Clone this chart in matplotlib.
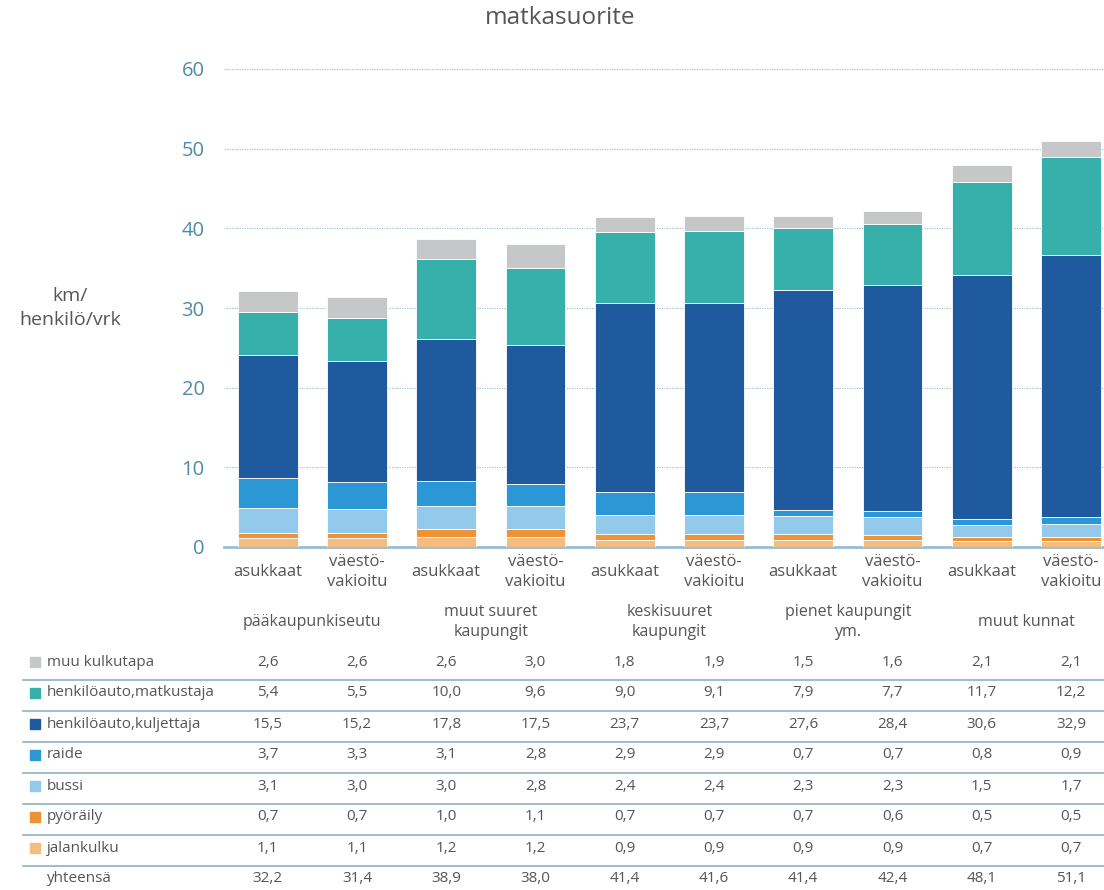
import matplotlib
matplotlib.use("Agg")
import matplotlib.pyplot as plt
import matplotlib.transforms as mtransforms
import numpy as np

plt.rcParams['font.family'] = ['Open Sans', 'DejaVu Sans']

# data
sub_labels = ["asukkaat", "väestö-\nvakioitu"] * 5
groups = ["pääkaupunkiseutu", "muut suuret\nkaupungit", "keskisuuret\nkaupungit",
          "pienet kaupungit\nym.", "muut kunnat"]

modes = ["muu kulkutapa", "henkilöauto,matkustaja", "henkilöauto,kuljettaja",
         "raide", "bussi", "pyöräily", "jalankulku"]
muu = [2.6, 2.6, 2.6, 3.0, 1.8, 1.9, 1.5, 1.6, 2.1, 2.1]
matkustaja = [5.4, 5.5, 10.0, 9.6, 9.0, 9.1, 7.9, 7.7, 11.7, 12.2]
kuljettaja = [15.5, 15.2, 17.8, 17.5, 23.7, 23.7, 27.6, 28.4, 30.6, 32.9]
raide = [3.7, 3.3, 3.1, 2.8, 2.9, 2.9, 0.7, 0.7, 0.8, 0.9]
bussi = [3.1, 3.0, 3.0, 2.8, 2.4, 2.4, 2.3, 2.3, 1.5, 1.7]
pyoraily = [0.7, 0.7, 1.0, 1.1, 0.7, 0.7, 0.7, 0.6, 0.5, 0.5]
jalankulku = [1.1, 1.1, 1.2, 1.2, 0.9, 0.9, 0.9, 0.9, 0.7, 0.7]
yhteensa = [32.2, 31.4, 38.9, 38.0, 41.4, 41.6, 41.4, 42.4, 48.1, 51.1]

series = [muu, matkustaja, kuljettaja, raide, bussi, pyoraily, jalankulku]
colors = ["#c6c7c9", "#37afab", "#1f5a9e", "#2b97d4", "#93c9ea", "#ee9236", "#f3bd80"]

txt = "#555555"
axis_blue = "#4f8aab"
line_blue = "#8fb0c4"

fig = plt.figure(figsize=(11.04, 8.9), dpi=100)
W, H = 1104, 890
ax = fig.add_axes([224 / W, (H - 547) / H, (W - 224) / W, (547 - 69) / H])

x = np.arange(len(yhteensa))
bottom = np.zeros(len(x))
# draw from bottom of stack upward
for vals, col in zip(series[::-1], colors[::-1]):
    ax.bar(x, vals, bottom=bottom, width=0.67, color=col, edgecolor="white", linewidth=0.6, zorder=3)
    bottom += np.array(vals)

ax.set_ylim(0, 60)
ax.set_xlim(-0.49, 9.37)
ax.set_yticks([0, 10, 20, 30, 40, 50, 60])
ax.tick_params(axis="y", length=0, pad=14, labelsize=14.5, labelcolor=axis_blue)
ax.set_xticks([])
for s in ["top", "right", "left"]:
    ax.spines[s].set_visible(False)
ax.spines["bottom"].set_color("#9bbdd2")
ax.spines["bottom"].set_linewidth(2)
ax.yaxis.grid(True, linestyle=(0, (1, 1)), color="#a3c2d4", linewidth=0.9, zorder=0)
ax.set_axisbelow(True)

fig.text(560 / W, 1 - 18 / H, "matkasuorite", ha="center", va="center", fontsize=17.5, color=txt)
fig.text(70 / W, 1 - 308 / H, "km/\nhenkilö/vrk", ha="center", va="center", fontsize=14,
         color=txt, linespacing=1.45)

trans = mtransforms.blended_transform_factory(ax.transData, fig.transFigure)

for i, lab in enumerate(sub_labels):
    fig.text(i, 1 - 572 / H, lab, transform=trans, ha="center", va="center",
             fontsize=12, color=txt, linespacing=1.4)
for g, lab in enumerate(groups):
    fig.text(2 * g + 0.5, 1 - 622 / H, lab, transform=trans, ha="center", va="center",
             fontsize=11.5, color=txt, linespacing=1.4)

# table below the chart
row_y = [662, 693, 724, 755, 786, 817, 848, 879]
rows = series + [yhteensa]
row_names = modes + ["yhteensä"]
for r, (name, vals) in enumerate(zip(row_names, rows)):
    yy = 1 - row_y[r] / H
    if r < len(colors):
        fig.patches.append(plt.Rectangle((30 / W, yy - 5 / H), 10 / W, 10 / H,
                                         transform=fig.transFigure, color=colors[r]))
    fig.text(47 / W, yy, name, ha="left", va="center", fontsize=11, color=txt)
    for i, v in enumerate(vals):
        fig.text(i, yy, f"{v:.1f}".replace(".", ","), transform=trans, ha="center",
                 va="center", fontsize=11, color=txt)
    if r < len(rows) - 1:
        ly = 1 - (row_y[r] + 18) / H
        fig.add_artist(plt.Line2D([23 / W, 1], [ly, ly], transform=fig.transFigure,
                                  color=line_blue, linewidth=1.2))

fig.savefig("out.png", dpi=100)
